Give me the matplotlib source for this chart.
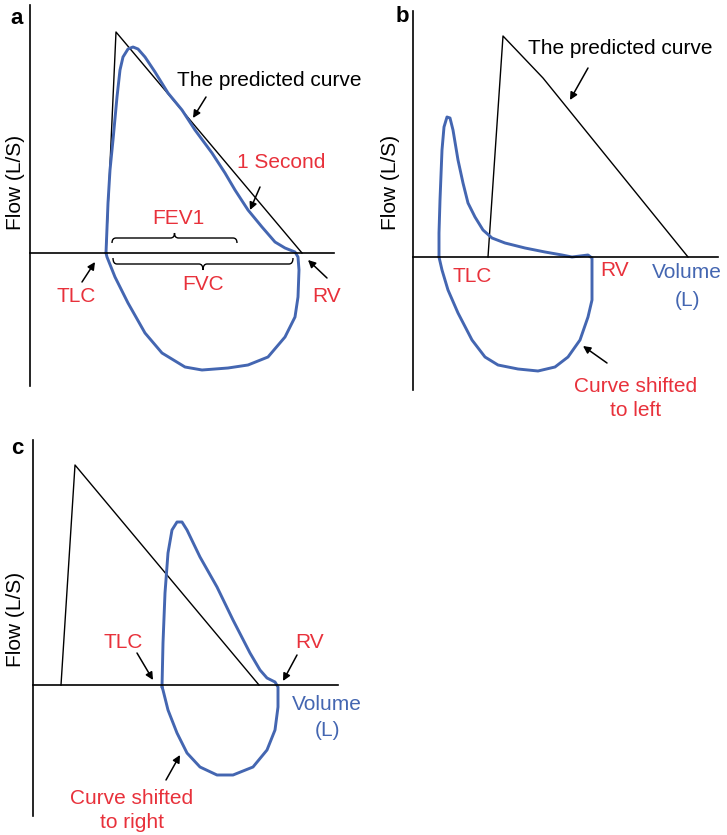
import numpy as np
import matplotlib
matplotlib.use('Agg')
import matplotlib.pyplot as plt
from matplotlib.path import Path
from matplotlib.patches import PathPatch

plt.rcParams['font.family'] = ['Liberation Sans', 'DejaVu Sans']

RED = '#e8313b'
BLUE = '#4466b1'

# panel a: normal loop (volume, flow) in arbitrary units
pred_a_vol = [76, 86, 272]
pred_a_flow = [0, 221, 0]
loop_a_vol = [76, 78, 80, 83, 87, 90, 93, 98, 103, 108, 115, 125, 138, 152, 165, 182, 195,
              205, 218, 232, 245, 255, 265, 268, 269, 268, 265, 255, 238, 218, 198, 172,
              155, 132, 115, 98, 85, 77, 76]
loop_a_flow = [0, 50, 83, 113, 156, 183, 196, 204, 206, 204, 196, 181, 160, 143, 123, 100, 80,
               63, 43, 26, 11, 5, 1, -4, -17, -44, -64, -84, -104, -112, -115, -117,
               -114, -100, -80, -50, -24, -4, 0]

# panel b: obstructive, shifted to left
pred_b_vol = [75, 90, 130, 275]
pred_b_flow = [0, 221, 179, 0]
loop_b_vol = [26, 26, 27, 29, 31, 34, 37, 40, 45, 50, 55, 62, 70, 79, 92, 112, 132, 149, 159,
              175, 179, 179, 179, 175, 167, 155, 142, 125, 105, 85, 72, 59, 45, 35, 29, 26]
loop_b_flow = [0, 24, 57, 107, 130, 140, 139, 127, 97, 74, 54, 40, 27, 19, 14, 9, 5, 2, 0,
               2, -1, -20, -43, -60, -83, -100, -110, -114, -112, -108, -100, -83, -56, -33,
               -13, 0]

# panel c: restrictive, shifted to right
pred_c_vol = [28, 42, 226]
pred_c_flow = [0, 220, 0]
loop_c_vol = [129, 130, 132, 135, 139, 144, 149, 154, 167, 184, 200, 217, 227, 234, 242, 245,
              245, 242, 234, 220, 200, 184, 167, 154, 144, 135, 130, 129]
loop_c_flow = [-2, 42, 92, 132, 155, 163, 163, 155, 128, 98, 65, 32, 15, 7, 3, -2,
               -22, -45, -65, -82, -90, -90, -82, -68, -48, -25, -5, -2]

W, H = 727, 835
fig = plt.figure(figsize=(W / 100, H / 100), dpi=100)


def make_axes(left, top, width, height):
    # place an axes by its pixel box, x runs from 0 at the flow axis
    ax = fig.add_axes([left / W, (H - top - height) / H, width / W, height / H])
    ax.set_xlim(0, width)
    for s in ['top', 'right']:
        ax.spines[s].set_visible(False)
    ax.spines['bottom'].set_position(('data', 0))
    ax.spines['left'].set_linewidth(1.2)
    ax.spines['bottom'].set_linewidth(1.2)
    ax.set_xticks([])
    ax.set_yticks([])
    ax.patch.set_visible(False)
    return ax


def arrow(ax, start, end):
    ax.annotate('', xy=end, xytext=start,
                arrowprops=dict(arrowstyle='-|>', color='black', lw=1.1,
                                mutation_scale=11, shrinkA=0, shrinkB=0))


def brace(ax, x0, x1, y, h):
    xm = (x0 + x1) / 2
    r = 4
    m = y + h / 2
    verts = [(x0, y), (x0, m), (x0 + r, m),
             (xm - r, m), (xm, m), (xm, y + h),
             (xm, m), (xm + r, m),
             (x1 - r, m), (x1, m), (x1, y)]
    codes = [Path.MOVETO, Path.CURVE3, Path.CURVE3,
             Path.LINETO, Path.CURVE3, Path.CURVE3,
             Path.CURVE3, Path.CURVE3,
             Path.LINETO, Path.CURVE3, Path.CURVE3]
    ax.add_patch(PathPatch(Path(verts, codes), fill=False, lw=1.0, color='black'))


fs = 15
loop_kw = dict(color=BLUE, lw=2.1, solid_joinstyle='round', solid_capstyle='round')

# ---- a
ax = make_axes(30, 5, 304, 381)
ax.set_ylim(-133, 248)
ax.plot(pred_a_vol, pred_a_flow, color='black', lw=1.0)
ax.plot(loop_a_vol, loop_a_flow, **loop_kw)
ax.text(-13, 234, 'a', fontsize=16, fontweight='bold', ha='center', va='center')
ax.text(-14, 71, 'Flow (L/S)', fontsize=fs, rotation=90, ha='center', va='center')
ax.text(147, 173, 'The predicted curve', fontsize=fs, ha='left', va='center')
arrow(ax, (176, 156), (163, 135))
ax.text(251, 90, '1 Second', fontsize=fs, color=RED, ha='center', va='center')
arrow(ax, (230, 66), (220, 43))
ax.text(148, 35, 'FEV1', fontsize=fs, color=RED, ha='center', va='center')
brace(ax, 82, 207, 10, 10)
brace(ax, 83, 263, -5, -12)
ax.text(173, -32, 'FVC', fontsize=fs, color=RED, ha='center', va='center')
ax.text(46, -43, 'TLC', fontsize=fs, color=RED, ha='center', va='center')
arrow(ax, (52, -29), (65, -9))
ax.text(297, -43, 'RV', fontsize=fs, color=RED, ha='center', va='center')
arrow(ax, (297, -25), (278, -7))

# ---- b
ax = make_axes(413, 11, 305, 379)
ax.set_ylim(-133, 246)
ax.plot(pred_b_vol, pred_b_flow, color='black', lw=1.0)
ax.plot(loop_b_vol, loop_b_flow, **loop_kw)
ax.text(-11, 240, 'b', fontsize=16, fontweight='bold', ha='center', va='center')
ax.text(-23, 75, 'Flow (L/S)', fontsize=fs, rotation=90, ha='center', va='center')
ax.text(115, 209, 'The predicted curve', fontsize=fs, ha='left', va='center')
arrow(ax, (175, 189), (157, 157))
ax.text(59, -19, 'TLC', fontsize=fs, color=RED, ha='center', va='center')
ax.text(202, -14, 'RV', fontsize=fs, color=RED, ha='center', va='center')
ax.text(274, -16, 'Volume', fontsize=fs, color=BLUE, ha='center', va='center')
ax.text(274, -43, '(L)', fontsize=fs, color=BLUE, ha='center', va='center')
ax.text(223, -130, 'Curve shifted', fontsize=fs, color=RED, ha='center', va='center')
ax.text(223, -154, 'to left', fontsize=fs, color=RED, ha='center', va='center')
arrow(ax, (194, -106), (170, -89))

# ---- c
ax = make_axes(33, 440, 305, 376)
ax.set_ylim(-131, 245)
ax.plot(pred_c_vol, pred_c_flow, color='black', lw=1.0)
ax.plot(loop_c_vol, loop_c_flow, **loop_kw)
ax.text(-16, 237, 'c', fontsize=16, fontweight='bold', ha='center', va='center')
ax.text(-17, 66, 'Flow (L/S)', fontsize=fs, rotation=90, ha='center', va='center')
ax.text(90, 43, 'TLC', fontsize=fs, color=RED, ha='center', va='center')
arrow(ax, (104, 32), (120, 5))
ax.text(277, 43, 'RV', fontsize=fs, color=RED, ha='center', va='center')
arrow(ax, (264, 30), (250, 4))
ax.text(294, -20, 'Volume', fontsize=fs, color=BLUE, ha='center', va='center')
ax.text(294, -46, '(L)', fontsize=fs, color=BLUE, ha='center', va='center')
ax.text(99, -113, 'Curve shifted', fontsize=fs, color=RED, ha='center', va='center')
ax.text(99, -138, 'to right', fontsize=fs, color=RED, ha='center', va='center')
arrow(ax, (133, -95), (147, -70))

fig.savefig('out.png', dpi=100)
